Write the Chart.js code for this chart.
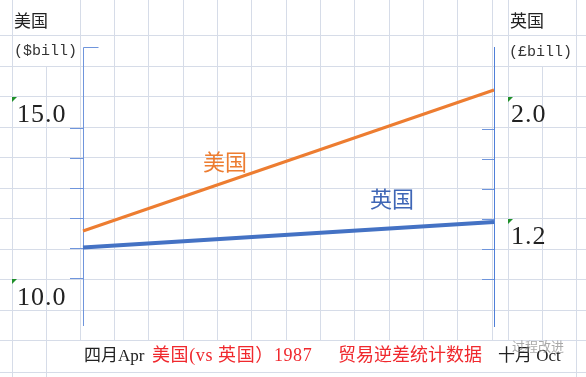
<!DOCTYPE html>
<html>
<head>
<meta charset="utf-8">
<title>美国(vs 英国) 1987 贸易逆差统计数据</title>
<script src="https://cdn.jsdelivr.net/npm/chart.js@4.4.1/dist/chart.umd.min.js"></script>
<style>
  html, body { margin: 0; padding: 0; background: #fff; }
  #sheet { position: relative; width: 586px; height: 377px; overflow: hidden; background: #fff; }
  .gl { position: absolute; background: #d6dce8; }
  #chart { position: absolute; left: 0; top: 0; z-index: 2; }
  .txt { position: absolute; z-index: 3; white-space: nowrap; line-height: 1; }
  .cjk { font-family: "Noto Sans CJK SC", sans-serif; color: #222; }
  .mono { font-family: "Liberation Mono", "Noto Sans CJK SC", monospace; color: #333; font-size: 15px; }
  .num { font-family: "Liberation Serif", serif; color: #222; font-size: 26px; letter-spacing: 1px; }
  .row { font-family: "Liberation Serif", "Noto Sans CJK SC", serif; font-size: 17px; color: #222; }
  .red { color: #f0282d; font-size: 18px; }
  .flag { position: absolute; z-index: 3; width: 0; height: 0; border-top: 5px solid #1f8f2a; border-right: 5px solid transparent; }
</style>
</head>
<body>
<div id="sheet">
  <canvas id="chart" width="586" height="377"></canvas>

  <div class="txt cjk" style="left:14px; top:11px; font-size:17px;">美国</div>
  <div class="txt mono" style="left:14px; top:44px;">($bill)</div>
  <div class="txt cjk" style="left:510px; top:11px; font-size:17px;">英国</div>
  <div class="txt mono" style="left:509px; top:45px;">(£bill)</div>

  <div class="flag" style="left:12px; top:97px;"></div>
  <div class="txt num" style="left:17px; top:101px;">15.0</div>
  <div class="flag" style="left:12px; top:279px;"></div>
  <div class="txt num" style="left:17px; top:284px;">10.0</div>
  <div class="flag" style="left:508px; top:97px;"></div>
  <div class="txt num" style="left:511px; top:101px;">2.0</div>
  <div class="flag" style="left:508px; top:219px;"></div>
  <div class="txt num" style="left:511px; top:223px;">1.2</div>

  <div class="txt cjk" style="left:203px; top:149px; font-size:22px; color:#ed7d31;">美国</div>
  <div class="txt cjk" style="left:370px; top:186px; font-size:22px; color:#3f66b6;">英国</div>

  <div class="txt row" style="left:84px; top:347px;">四月Apr</div>
  <div class="txt row red" style="left:152px; top:346px; letter-spacing:0.6px;">美国(vs 英国）1987</div>
  <div class="txt row red" style="left:338px; top:346px;">贸易逆差统计数据</div>
  <div class="txt cjk" style="left:512px; top:339px; font-size:13px; color:rgba(140,140,140,0.75); z-index:4;">过程改进</div>
  <div class="txt row" style="left:498px; top:347px;">十月 Oct</div>
</div>

<script>
// values
const months = ["四月Apr", "十月 Oct"];
const usDeficit = [11.6, 16.3];   // $bill
const ukDeficit = [1.21, 1.38];   // £bill
const usTicks = [10, 11, 12, 13, 14, 15];
const ukTicks = [1.0, 1.2, 1.4, 1.6, 1.8, 2.0];

// spreadsheet grid behind the chart
const sheet = document.getElementById("sheet");
const rowY = [35, 66, 96, 127, 157, 188, 218, 249, 279, 310, 340, 372];
const colX = [12, 46, 80, 114, 148, 183, 217, 251, 286, 320, 354, 389, 423, 457, 492, 508, 542, 576];

rowY.forEach((y) => {
  const d = document.createElement("div");
  d.className = "gl";
  d.style.cssText = `left:0;top:${y}px;width:586px;height:1px;`;
  sheet.appendChild(d);
});
colX.forEach((x) => {
  let top = 0;
  let bottom = 377;
  if (x === 46 || x === 542) top = 66;        // merged header cells
  if (x > 46 && x < 576) bottom = 340;       // merged title row
  const d = document.createElement("div");
  d.className = "gl";
  d.style.cssText = `left:${x}px;top:${top}px;width:1px;height:${bottom - top}px;`;
  sheet.appendChild(d);
});

const axisColor = "#6f95dc";

// left axis line with the small hook at its top
const axisCap = {
  id: "axisCap",
  beforeDatasetsDraw(chart) {
    const { ctx, chartArea } = chart;
    const x = Math.round(chartArea.left) + 0.5;
    ctx.save();
    ctx.strokeStyle = axisColor;
    ctx.lineWidth = 1;
    ctx.beginPath();
    ctx.moveTo(x + 15, chartArea.top + 0.5);
    ctx.lineTo(x, chartArea.top + 0.5);
    ctx.lineTo(x, chartArea.bottom);
    ctx.stroke();
    ctx.restore();
  },
};

new Chart(document.getElementById("chart"), {
  type: "line",
  data: {
    labels: months,
    datasets: [
      {
        label: "美国",
        data: usDeficit,
        yAxisID: "yUS",
        borderColor: "#ed7d31",
        borderWidth: 3,
        pointRadius: 0,
        tension: 0,
      },
      {
        label: "英国",
        data: ukDeficit,
        yAxisID: "yUK",
        borderColor: "#4472c4",
        borderWidth: 4,
        pointRadius: 0,
        tension: 0,
      },
    ],
  },
  options: {
    responsive: false,
    animation: false,
    devicePixelRatio: 1,
    layout: { padding: { top: 47, bottom: 51, left: 0, right: 0 } },
    plugins: { legend: { display: false }, tooltip: { enabled: false } },
    scales: {
      x: { display: false, offset: false },
      yUS: {
        position: "left",
        min: 8.433,
        max: 17.733,
        afterBuildTicks: (s) => { s.ticks = usTicks.map((v) => ({ value: v })); },
        afterFit: (s) => { s.width = 83; },
        ticks: { display: false },
        grid: { drawOnChartArea: false, drawTicks: true, tickLength: 13, color: axisColor, lineWidth: 1 },
        border: { display: false },
      },
      yUK: {
        position: "right",
        min: 0.687,
        max: 2.547,
        afterBuildTicks: (s) => { s.ticks = ukTicks.map((v) => ({ value: v })); },
        afterFit: (s) => { s.width = 92; },
        ticks: { display: false },
        // negative length puts the marks inside the plot, as in the picture
        grid: { drawOnChartArea: false, drawTicks: true, tickLength: -12, color: axisColor, lineWidth: 1 },
        border: { display: true, color: "#4f7fd8", width: 1 },
      },
    },
  },
  plugins: [axisCap],
});
</script>
</body>
</html>
